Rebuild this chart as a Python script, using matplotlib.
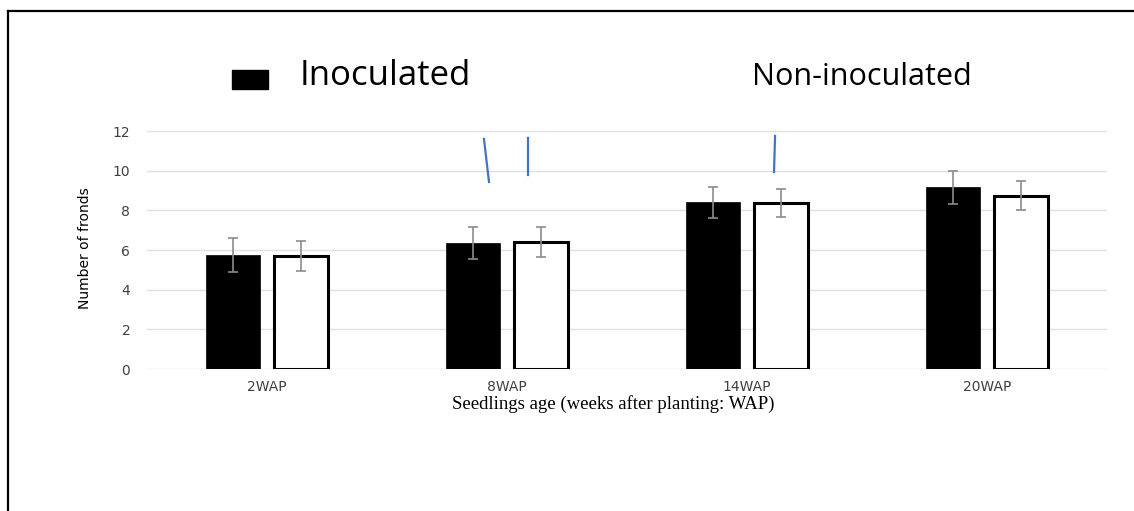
import numpy as np
import matplotlib.pyplot as plt
from matplotlib.patches import Rectangle
from matplotlib.lines import Line2D

# Дані
categories = ['2WAP', '8WAP', '14WAP', '20WAP']
inoculated = [5.75, 6.35, 8.4, 9.17]
inoculated_err = [0.85, 0.8, 0.8, 0.83]
non_inoculated = [5.7, 6.4, 8.37, 8.73]
non_inoculated_err = [0.75, 0.75, 0.73, 0.73]

# Сині позначки над стовпцями (x0, y0, x1, y1 у координатах даних)
marks_x = [[0.904, 0.925], [1.0875, 1.0875], [2.117, 2.1125]]
marks_y = [[11.6, 9.43], [11.65, 9.78], [11.75, 9.93]]

fig = plt.figure(figsize=(11.34, 5.11), dpi=100)
ax = fig.add_axes([147 / 1134, 1 - 369 / 511, 960 / 1134, 238 / 511])

x = np.arange(len(categories))
w = 0.225
off = 0.142

ax.bar(x - off, inoculated, w, color='black', edgecolor='black', linewidth=0.5, zorder=3)
ax.bar(x + off, non_inoculated, w, color='white', edgecolor='black', linewidth=2.2, zorder=3)
ax.errorbar(x - off, inoculated, yerr=inoculated_err, fmt='none', ecolor='#8c8c8c',
            elinewidth=1.2, capsize=3.5, capthick=1.2, zorder=4)
ax.errorbar(x + off, non_inoculated, yerr=non_inoculated_err, fmt='none', ecolor='#8c8c8c',
            elinewidth=1.2, capsize=3.5, capthick=1.2, zorder=4)

for mx, my in zip(marks_x, marks_y):
    ax.plot(mx, my, color='#4472C4', linewidth=1.6, zorder=5, clip_on=False)

ax.set_xlim(-0.5, 3.5)
ax.set_ylim(0, 12)
ax.set_yticks(range(0, 13, 2))
ax.set_xticks(x)
ax.set_xticklabels(categories)
ax.yaxis.grid(True, color='#e0e0e0', linewidth=1, zorder=0)
ax.set_axisbelow(True)
for s in ax.spines.values():
    s.set_visible(False)
ax.tick_params(axis='both', length=0, labelsize=10, colors='#404040')
ax.tick_params(axis='y', pad=12)
ax.tick_params(axis='x', pad=8)

# Підписи осей
fig.text(85 / 1134, 1 - 248 / 511, 'Number of fronds', rotation=90, ha='center', va='center',
         fontsize=10, family=['Liberation Sans Narrow', 'DejaVu Sans'])
fig.text(613 / 1134, 1 - 404 / 511, 'Seedlings age (weeks after planting: WAP)', ha='center',
         va='center', fontsize=13.5, family='Liberation Serif')

# Легенда
fig.patches.append(Rectangle((232 / 1134, 1 - 89 / 511), 36 / 1134, 19 / 511,
                             transform=fig.transFigure, facecolor='black', edgecolor='black'))
fig.text(300 / 1134, 1 - 76 / 511, 'Inoculated', ha='left', va='center', fontsize=25, family='Open Sans')
fig.text(752 / 1134, 1 - 77 / 511, 'Non-inoculated', ha='left', va='center', fontsize=22, family='Open Sans')

# Рамка
fig.add_artist(Line2D([8 / 1134, 1], [1 - 11.5 / 511, 1 - 11.5 / 511], transform=fig.transFigure,
                      color='black', linewidth=1.6))
fig.add_artist(Line2D([8 / 1134, 8 / 1134], [0, 1 - 11.5 / 511], transform=fig.transFigure,
                      color='black', linewidth=1.6))

plt.savefig('out.png', dpi=100)
